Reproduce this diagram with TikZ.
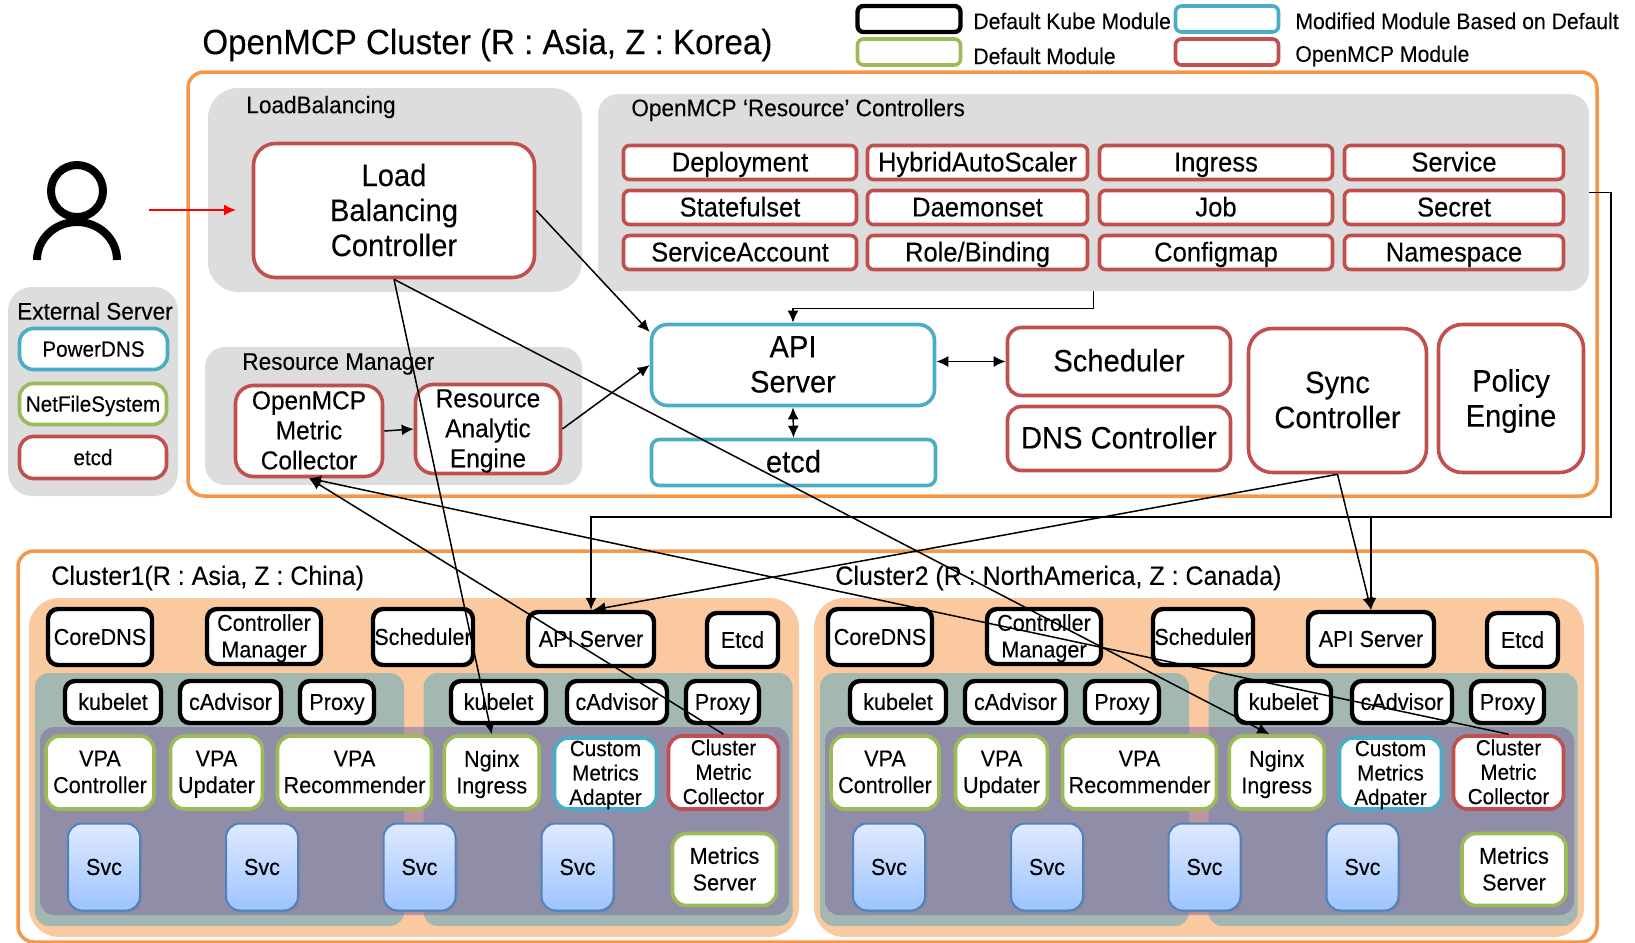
\documentclass[tikz,border=0pt]{standalone}
\usepackage{fontspec}
\setmainfont[FakeStretch=0.94,FakeBold=0.15]{Liberation Sans}
\usetikzlibrary{arrows.meta,shadows}
\definecolor{ppOrange}{HTML}{F79646}
\definecolor{ppRed}{HTML}{C0504D}
\definecolor{ppBlue}{HTML}{4BACC6}
\definecolor{ppGreen}{HTML}{9BBB59}
\definecolor{ppPeach}{HTML}{FBC9A0}
\definecolor{ppTeal}{HTML}{A2B8B0}
\definecolor{ppPurple}{HTML}{8064A2}
\definecolor{ppGray}{HTML}{DDDDDD}
\definecolor{svcLine}{HTML}{4F81BD}
\definecolor{svcTop}{HTML}{DFEAFF}
\definecolor{svcBottom}{HTML}{9DC3FF}
\begin{document}
\begin{tikzpicture}[
        x=0.5pt, y=-0.5pt,
        >={Latex[length=6pt,width=5.5pt]},
        wh/.style 2 args={minimum width=#1*0.5pt+1pt, minimum height=#2*0.5pt+1pt, inner sep=0pt},
        even/.style={execute at begin node={\rule{0pt}{\dimexpr0.72em+2pt\relax}}, execute at end node=\vphantom{p}},
        multi/.style={text depth=0.7pt},
        fxl/.style={font=\fontsize{17.6}{20}\selectfont},
        flg/.style={font=\fontsize{15.5}{17.5}\selectfont},
        fmd/.style={font=\fontsize{13.6}{14}\selectfont},
        fsm/.style={font=\fontsize{11.5}{13.3}\selectfont},
        ftn/.style={font=\fontsize{11}{12.2}\selectfont},
        label/.style={font=\fontsize{12}{14}\selectfont, inner sep=0pt},
        legendtext/.style={label, anchor=west, font=\fontsize{11.25}{13}\selectfont},
        clustertext/.style={label, anchor=west, font=\fontsize{13.3}{14}\selectfont},
        group/.style={fill=ppGray, rounded corners=#1},
        group/.default=10pt,
        kube/.style={draw=black, line width=2.2pt, fill=white, rounded corners=5pt, align=center, fsm, even},
        defmod/.style={draw=ppGreen, line width=1.8pt, fill=white, rounded corners=7pt, align=center, fsm, even},
        modmod/.style={draw=ppBlue, line width=1.8pt, fill=white, rounded corners=7pt, align=center, fsm, even},
        ompmod/.style={draw=ppRed, line width=1.8pt, fill=white, rounded corners=7pt, align=center, fsm, even},
        ctrl/.style={ompmod, rounded corners=3pt, wh={231}{32}, fmd},
        teal/.style={fill=ppTeal, rounded corners=7pt, minimum width=369*0.5pt, minimum height=253*0.5pt},
        svc/.style={draw=svcLine, line width=1pt, rounded corners=7pt, top color=svcTop, bottom color=svcBottom,
            drop shadow={opacity=0.4, shadow xshift=1pt, shadow yshift=-1pt}, wh={70}{85}, fsm},
        link/.style={->, black, line width=0.75pt}
    ]
    \useasboundingbox (0,0) rectangle (1635,943);

    % --- Legend ---
    \node[kube, wh={101}{24}, rounded corners=3pt] (lgKube) at (909,19) {};
    \node[defmod, wh={101}{24}, rounded corners=3pt] (lgDefault) at (909,52) {};
    \node[modmod, wh={101}{24}, rounded corners=3pt] (lgModified) at (1227,19) {};
    \node[ompmod, wh={101}{24}, rounded corners=3pt] (lgOpenmcp) at (1227,52) {};
    \node[legendtext] (txKube) at (973,21) {Default Kube Module};
    \node[legendtext] (txDefault) at (973,56) {Default Module};
    \node[legendtext] (txModified) at (1295,21) {Modified Module Based on Default};
    \node[legendtext] (txOpenmcp) at (1295,56) {OpenMCP Module};

    % --- OpenMCP Cluster ---
    \node[fxl, anchor=west, inner sep=0pt] (title) at (202,45) {OpenMCP Cluster (R : Asia, Z : Korea)};
    \draw[ppOrange, line width=1.75pt, rounded corners=8pt] (188,72) rectangle (1597,496);

    % User
    \draw[black, line width=4pt] (77,191) ellipse (26 and 26);
    \draw[black, line width=4pt] (37,260) arc[start angle=180, end angle=360, x radius=40, y radius=38];

    % External Server
    \node[group=12pt, wh={168}{207}] (external) at (93,391.5) {};
    \node[label] (externalLabel) at (95,311) {External Server};
    \node[modmod, wh={146}{39}, ftn] (powerdns) at (93.5,349) {PowerDNS};
    \node[defmod, wh={145}{39}, ftn] (nfs) at (93,404) {NetFileSystem};
    \node[ompmod, wh={145}{40}, ftn] (etcdExt) at (93,457.5) {etcd};

    % LoadBalancing
    \node[group=15pt, wh={372}{202}] (lbGroup) at (395,190) {};
    \node[label, anchor=west] (lbLabel) at (246,107) {LoadBalancing};
    \node[ompmod, multi, wh={279}{132}, flg, rounded corners=11pt] (lb) at (394,210.5) {Load\\Balancing\\Controller};

    % Resource Manager
    \node[group=10pt, wh={375}{136}] (rmGroup) at (393.5,416) {};
    \node[label, anchor=west] (rmLabel) at (242,364) {Resource Manager};
    \node[ompmod, multi, wh={145}{89}, font=\fontsize{13}{15}\selectfont, rounded corners=9pt] (omc) at (309,431) {OpenMCP\\Metric\\Collector};
    \node[ompmod, multi, wh={143}{87}, font=\fontsize{13}{15}\selectfont, rounded corners=9pt] (rae) at (488,429) {Resource\\Analytic\\Engine};

    % Resource Controllers
    \node[group=10pt, wh={989}{195}] (resctrl) at (1093.5,192.5) {};
    \node[label, anchor=west] (resctrlLabel) at (631,110) {OpenMCP  ‘Resource’ Controllers};
    \node[ctrl] (deployment) at (740,162.5) {Deployment};
    \node[ctrl, wh={218}{32}] (hpa) at (977.5,162.5) {HybridAutoScaler};
    \node[ctrl] (ingress) at (1216,162.5) {Ingress};
    \node[ctrl, wh={217}{32}] (service) at (1454,162.5) {Service};
    \node[ctrl] (statefulset) at (740,207.5) {Statefulset};
    \node[ctrl, wh={218}{32}] (daemonset) at (977.5,207.5) {Daemonset};
    \node[ctrl] (job) at (1216,207.5) {Job};
    \node[ctrl, wh={217}{32}] (secret) at (1454,207.5) {Secret};
    \node[ctrl] (account) at (740,252.5) {ServiceAccount};
    \node[ctrl, wh={218}{32}] (role) at (977.5,252.5) {Role/Binding};
    \node[ctrl] (configmap) at (1216,252.5) {Configmap};
    \node[ctrl, wh={217}{32}] (namespace) at (1454,252.5) {Namespace};

    % Core modules
    \node[modmod, multi, wh={281}{79}, flg, rounded corners=8pt] (api) at (793,365) {API\\Server};
    \node[modmod, wh={282}{44}, flg, rounded corners=4pt] (etcd) at (793.5,462.5) {etcd};
    \node[ompmod, wh={221}{66}, flg] (scheduler) at (1119,361.5) {Scheduler};
    \node[ompmod, wh={221}{62}, flg] (dns) at (1119,438.5) {DNS Controller};
    \node[ompmod, multi, wh={176}{142}, flg, rounded corners=12pt] (sync) at (1337.5,400.5) {Sync\\Controller};
    \node[ompmod, multi, wh={143}{146}, flg, rounded corners=12pt] (policy) at (1511,398.5) {Policy\\Engine};

    % --- Cluster1 ---
    \draw[ppOrange, line width=1.75pt, rounded corners=8pt] (18,551) rectangle (1597,942);
    \node[clustertext] (titleA) at (51,578) {Cluster1(R : Asia, Z : China)};
    \node[clustertext] (titleB) at (835,578) {Cluster2 (R : NorthAmerica, Z : Canada)};

    \begin{scope}[name prefix=a-]
        \fill[ppPeach, rounded corners=15pt] (29,598) rectangle (799,937);
        \node[teal] (nodeL) at (219.5,799.5) {};
        \node[teal] (nodeR) at (608,799.5) {};
        \fill[ppPurple, fill opacity=0.5, rounded corners=7pt] (40,727) rectangle (789,915);

        \node[kube, wh={102}{54}] (dns) at (100,637) {CoreDNS};
        \node[kube, multi, wh={112}{53}] (manager) at (264,636.5) {Controller\\Manager};
        \node[kube, wh={98}{54}] (sched) at (423,637) {Scheduler};
        \node[kube, wh={124}{52}] (api) at (591,639) {API Server};
        \node[kube, wh={69}{52}] (etcd) at (742.5,640) {Etcd};

        \node[kube, wh={94}{40}] (kubeletL) at (113,702) {kubelet};
        \node[kube, wh={99}{40}] (cadvisorL) at (230.5,702) {cAdvisor};
        \node[kube, wh={72}{40}] (proxyL) at (337,702) {Proxy};
        \node[kube, wh={93}{40}] (kubeletR) at (498.5,702) {kubelet};
        \node[kube, wh={98}{40}] (cadvisorR) at (617,702) {cAdvisor};
        \node[kube, wh={71}{40}] (proxyR) at (722.5,702) {Proxy};

        \node[defmod, multi, wh={106}{71}] (vpac) at (100,772.5) {VPA\\Controller};
        \node[defmod, multi, wh={90}{71}] (vpau) at (216.5,772.5) {VPA\\Updater};
        \node[defmod, multi, wh={152}{71}] (vpar) at (354.5,772.5) {VPA\\Recommender};
        \node[defmod, multi, wh={93}{71}] (ng) at (491.75,772.5) {Nginx\\Ingress};
        \node[modmod, multi, wh={100}{69}, ftn] (cma) at (605.5,773.5) {Custom\\Metrics\\Adapter};
        \node[ompmod, multi, wh={108}{71}, ftn] (cmc) at (723.5,772.5) {Cluster\\Metric\\Collector};

        \node[svc] (svc1) at (104,867) {Svc};
        \node[svc] (svc2) at (262,867) {Svc};
        \node[svc] (svc3) at (419.5,867) {Svc};
        \node[svc] (svc4) at (577.5,867) {Svc};
        \node[defmod, multi, wh={102}{70}] (ms) at (724.5,869.5) {Metrics\\Server};
    \end{scope}

    % --- Cluster2 ---
    \begin{scope}[shift={(785,0)}, name prefix=b-]
        \fill[ppPeach, rounded corners=15pt] (29,598) rectangle (799,937);
        \node[teal] (nodeL) at (219.5,799.5) {};
        \node[teal] (nodeR) at (608,799.5) {};
        \fill[ppPurple, fill opacity=0.5, rounded corners=7pt] (40,727) rectangle (789,915);

        \node[kube, wh={102}{54}] (dns) at (95,637) {CoreDNS};
        \node[kube, multi, wh={112}{53}] (manager) at (259,636.5) {Controller\\Manager};
        \node[kube, wh={98}{54}] (sched) at (418,637) {Scheduler};
        \node[kube, wh={124}{52}] (api) at (586,639) {API Server};
        \node[kube, wh={69}{52}] (etcd) at (737.5,640) {Etcd};

        \node[kube, wh={94}{40}] (kubeletL) at (113,702) {kubelet};
        \node[kube, wh={99}{40}] (cadvisorL) at (230.5,702) {cAdvisor};
        \node[kube, wh={72}{40}] (proxyL) at (337,702) {Proxy};
        \node[kube, wh={93}{40}] (kubeletR) at (498.5,702) {kubelet};
        \node[kube, wh={98}{40}] (cadvisorR) at (617,702) {cAdvisor};
        \node[kube, wh={71}{40}] (proxyR) at (722.5,702) {Proxy};

        \node[defmod, multi, wh={106}{71}] (vpac) at (100,772.5) {VPA\\Controller};
        \node[defmod, multi, wh={90}{71}] (vpau) at (216.5,772.5) {VPA\\Updater};
        \node[defmod, multi, wh={152}{71}] (vpar) at (354.5,772.5) {VPA\\Recommender};
        \node[defmod, multi, wh={93}{71}] (ng) at (491.75,772.5) {Nginx\\Ingress};
        \node[modmod, multi, wh={100}{69}, ftn] (cma) at (605.5,773.5) {Custom\\Metrics\\Adpater};
        \node[ompmod, multi, wh={108}{71}, ftn] (cmc) at (723.5,772.5) {Cluster\\Metric\\Collector};

        \node[svc] (svc1) at (104,867) {Svc};
        \node[svc] (svc2) at (262,867) {Svc};
        \node[svc] (svc3) at (419.5,867) {Svc};
        \node[svc] (svc4) at (577.5,867) {Svc};
        \node[defmod, multi, wh={102}{70}] (ms) at (729,869.5) {Metrics\\Server};
    \end{scope}

    % --- Connectors ---
    \coordinate (userOut) at (149,210);
    \coordinate (userIn) at (236,210);
    \coordinate (busR) at (1611,517);
    \draw[->, red, line width=0.75pt] (userOut) -- (userIn);
    \draw[link] (lb.east) -- (api.167);
    \draw[link] (rae.east) -- (api.west);
    \draw[link] (omc.east) -- (rae.west);
    \draw[link] (resctrl.south) -- ++(0,17) -| (api.north);
    \draw[link, <->] (api.east |- scheduler.west) -- (scheduler.west);
    \draw[link, <->] (api.south) -- (etcd.north);
    \draw[link] (resctrl.east) -| (busR) -| (a-api.north);
    \draw[link] (busR) -| (b-api.north);
    \draw[link] (sync.south) -- (a-api.85);
    \draw[link] (sync.south) -- (b-api.north);
    \draw[link] (lb.south) -- (a-ng.north);
    \draw[link] (lb.south) -- (b-ng.101);
    \draw[link] (a-cmc.north) -- (omc.south);
    \draw[link] (b-cmc.north) -- (omc.south);

\end{tikzpicture}
\end{document}
